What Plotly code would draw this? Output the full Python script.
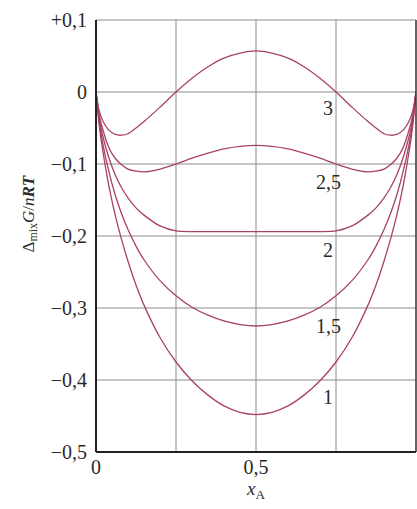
import plotly.graph_objects as go

x_A = [0, 0.01, 0.02, 0.04, 0.06, 0.08, 0.1, 0.125, 0.15, 0.2, 0.25, 0.3, 0.35, 0.4, 0.45, 0.5,
       0.55, 0.6, 0.65, 0.7, 0.75, 0.8, 0.85, 0.875, 0.9, 0.92, 0.94, 0.96, 0.98, 0.99, 1]

g_1 = [0, -0.046, -0.078, -0.130, -0.171, -0.205, -0.235, -0.268, -0.296, -0.341, -0.375, -0.401,
       -0.421, -0.436, -0.445, -0.448, -0.445, -0.436, -0.421, -0.401, -0.375, -0.341, -0.296,
       -0.268, -0.235, -0.205, -0.171, -0.130, -0.078, -0.046, 0]
g_15 = [0, -0.041, -0.069, -0.110, -0.143, -0.169, -0.191, -0.214, -0.233, -0.262, -0.283, -0.299,
        -0.310, -0.318, -0.323, -0.325, -0.323, -0.318, -0.310, -0.299, -0.283, -0.262, -0.233,
        -0.214, -0.191, -0.169, -0.143, -0.110, -0.069, -0.041, 0]
g_2 = [0, -0.036, -0.059, -0.091, -0.115, -0.133, -0.147, -0.161, -0.171, -0.186, -0.193, -0.194,
       -0.194, -0.194, -0.194, -0.194, -0.194, -0.194, -0.194, -0.194, -0.193, -0.186, -0.171,
       -0.161, -0.147, -0.133, -0.115, -0.091, -0.059, -0.036, 0]
g_25 = [0, -0.032, -0.050, -0.077, -0.092, -0.101, -0.107, -0.110, -0.111, -0.107, -0.100, -0.092,
        -0.085, -0.079, -0.0755, -0.074, -0.0755, -0.079, -0.085, -0.092, -0.100, -0.107, -0.111,
        -0.110, -0.107, -0.101, -0.092, -0.077, -0.050, -0.032, 0]
g_3 = [0, -0.026, -0.039, -0.053, -0.059, -0.060, -0.058, -0.050, -0.041, -0.021, 0.000, 0.019,
       0.035, 0.047, 0.054, 0.057, 0.054, 0.047, 0.035, 0.019, 0.000, -0.021, -0.041,
       -0.050, -0.058, -0.060, -0.059, -0.053, -0.039, -0.026, 0]

series_names = ["1", "1,5", "2", "2,5", "3"]
series_values = [g_1, g_15, g_2, g_25, g_3]
label_y = [-0.424, -0.325, -0.219, -0.125, -0.022]

y_ticks = [0.1, 0, -0.1, -0.2, -0.3, -0.4, -0.5]
y_tick_text = ["+0,1", "0", "\u22120,1", "\u22120,2", "\u22120,3", "\u22120,4", "\u22120,5"]
x_ticks = [0, 0.5, 1]
x_tick_text = ["0", "0,5", "1"]

curve_color = "#a8425f"
font_family = "Liberation Serif"
text_color = "#2a2a2a"

fig = go.Figure()
for name, vals in zip(series_names, series_values):
    fig.add_trace(go.Scatter(x=x_A, y=vals, mode="lines", name=name,
                             line=dict(color=curve_color, width=1.3, shape="spline", smoothing=0.8),
                             showlegend=False, hoverinfo="skip"))

for name, ly in zip(series_names, label_y):
    fig.add_annotation(x=0.725, y=ly, text=name, showarrow=False,
                       xanchor="center", yanchor="middle",
                       font=dict(family=font_family, size=20, color=text_color))

# y-axis title as rotated annotation
fig.add_annotation(xref="paper", yref="paper", x=-0.206, y=0.55,
                   text="\u0394<sub>mix</sub><i>G</i>/<i>n</i><b><i>RT</i></b>",
                   textangle=-90, showarrow=False, xanchor="center", yanchor="middle",
                   font=dict(family=font_family, size=17, color=text_color))

grid_color = "#8c8c8c"
fig.update_layout(
    width=417, height=509,
    margin=dict(l=96, r=1, t=20, b=57),
    paper_bgcolor="white", plot_bgcolor="white",
    font=dict(family=font_family, size=20, color=text_color),
    xaxis=dict(range=[0, 1], tickvals=x_ticks, ticktext=x_tick_text,
               showgrid=False, zeroline=False, showline=False, ticks="",
               ticklabelstandoff=1,
               tickfont=dict(family=font_family, size=20, color=text_color),
               title=dict(text="<i>x</i><sub>A</sub>", standoff=4,
                          font=dict(family=font_family, size=19, color=text_color))),
    yaxis=dict(range=[-0.5, 0.1], tickvals=y_ticks, ticktext=y_tick_text,
               showgrid=False, zeroline=False, showline=False, ticks="",
               ticklabelstandoff=8,
               tickfont=dict(family=font_family, size=20, color=text_color)),
)

for gx in [0.25, 0.5, 0.75]:
    fig.add_shape(type="line", xref="x", yref="paper", x0=gx, x1=gx, y0=0, y1=1,
                  line=dict(color=grid_color, width=1), layer="below")
for gy in [0, -0.1, -0.2, -0.3, -0.4]:
    fig.add_shape(type="line", xref="paper", yref="y", x0=0, x1=1, y0=gy, y1=gy,
                  line=dict(color=grid_color, width=1), layer="below")
fig.add_shape(type="line", xref="paper", yref="paper", x0=0, x1=1, y0=1, y1=1,
              line=dict(color=grid_color, width=1.2))
fig.add_shape(type="line", xref="paper", yref="paper", x0=0, x1=0, y0=0, y1=1,
              line=dict(color="#222222", width=2))
fig.add_shape(type="line", xref="paper", yref="paper", x0=0, x1=1, y0=0, y1=0,
              line=dict(color="#222222", width=2))
fig.add_shape(type="line", xref="paper", yref="paper", x0=1, x1=1, y0=0, y1=1,
              line=dict(color="#333333", width=1.5))

fig.write_html("out.html", config={"displayModeBar": False},
               post_script="document.body.style.margin='0';document.body.style.padding='0';")
